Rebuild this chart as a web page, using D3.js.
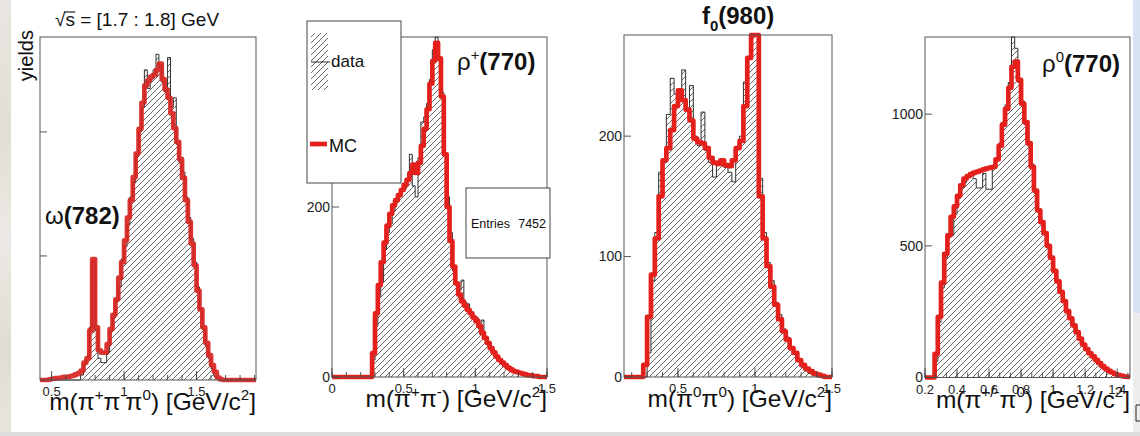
<!DOCTYPE html>
<html>
<head>
<meta charset="utf-8">
<script src="https://cdn.jsdelivr.net/npm/d3@7"></script>
<style>
  html, body { margin: 0; padding: 0; background: #ffffff; }
  svg { display: block; font-family: "Liberation Sans", Arial, Helvetica, sans-serif; }
</style>
</head>
<body>
<svg id="chart" width="1140" height="436"></svg>
<script>
// ---------------- histogram contents (events per bin) ----------------

// m(pi+ pi- pi0), bins of 0.02 GeV starting at 0.42 GeV
const m3piStart = 0.42, m3piWidth = 0.02;
const m3piData = [
  0,0,0,0,0,0,0,0,0,0,0,0,0,0,
  8,25,38,85,192,80,35,28,28,45,
  78,100,128,150,195,215,250,295,318,360,
  400,440,500,470,485,500,525,505,480,465,
  520,440,455,380,350,335,295,262,228,190,
  150,115,82,55,35,18,6,2,
  0,0,0,0,0,0,0,0,0,0,0,0,0
];
const m3piMC = [
  0,0,0,1,2,3,3,4,5,5,
  6,7,9,11,15,28,35,80,195,85,
  48,44,44,58,82,105,130,165,190,225,
  262,290,327,365,405,447,475,483,489,492,
  500,510,485,468,455,430,406,384,356,326,
  290,255,220,185,144,114,85,60,40,24,
  13,4,1,0,0,0,0,0,0,0,
  0,0,0,0,0
];
const m3piXTicks = [0.5, 1, 1.5];
const m3piYTicks = [200, 400];

// m(pi+ pi-), bins of 0.02 GeV starting at 0
const mpipiStart = 0, mpipiWidth = 0.02;
const mpipiData = [
  0,0,0,0,0,0,0,0,0,0,0,0,0,0,
  20,60,95,112,150,170,180,195,205,212,
  220,222,230,262,225,212,258,300,306,322,
  350,385,400,372,335,262,212,170,125,112,
  102,114,88,86,74,72,70,57,67,44,
  38,32,28,22,19,15,12,10,8,6,
  5,4,3,2,2,1,1,0,0,0,
  0
];
const mpipiMC = [
  0,0,0,0,0,0,0,0,0,0,0,0,0,0,
  28,75,108,135,158,178,192,202,208,214,
  220,226,232,240,250,240,252,272,292,315,
  345,372,393,375,330,262,200,160,130,110,
  97,89,84,79,75,70,66,60,52,46,
  40,34,29,24,20,17,14,11,9,7,
  6,5,4,3,2,2,1,1,0,0,
  0
];
const mpipiXTicks = [0, 0.5, 1, 1.5];
const mpipiYTicks = [0, 200];
const mpipiEntries = 7452;

// m(pi0 pi0), bins of 0.025 GeV starting at 0.15 GeV
const m2pi0Start = 0.15, m2pi0Width = 0.025;
const m2pi0Data = [
  0,0,0,0,0,0,
  20,80,120,170,178,218,248,235,232,255,
  222,242,200,192,220,188,178,166,178,176,
  174,170,162,190,200,245,265,290,300,165,
  120,95,80,62,52,40,33,25,20,13,
  8,5,3,1,
  0,0,0,0
];
const m2pi0MC = [
  0,0,0,0,0,
  10,50,85,115,150,180,190,205,225,238,
  230,222,213,198,195,194,190,182,178,177,
  180,176,175,180,190,196,225,265,300,295,
  150,115,92,75,60,48,38,31,24,20,
  14,10,7,5,3,2,1,
  0,0
];
const m2pi0XTicks = [0.5, 1, 1.5];
const m2pi0YTicks = [0, 100, 200];

// m(pi+/- pi0), bins of 0.02 GeV starting at 0.2 GeV
const mpic0Start = 0.2, mpic0Width = 0.02;
const mpic0Data = [
  0,0,0,60,210,340,455,545,540,620,
  680,720,740,760,775,755,720,720,775,715,
  715,805,830,890,970,1035,1120,1300,1250,1120,
  1050,960,880,810,700,640,585,545,505,450,
  400,360,322,288,250,220,192,168,145,122,
  105,88,78,64,52,40,31,23,17,12,
  8,5,2,1
];
const mpic0MC = [
  0,0,0,90,230,360,470,540,610,650,
  690,730,755,765,772,778,782,786,790,794,
  797,800,828,880,960,1020,1100,1180,1200,1130,
  1040,970,890,800,710,635,590,548,500,455,
  405,365,325,290,252,225,198,172,148,125,
  108,92,80,67,55,43,34,25,19,13,
  9,6,3,2
];
const mpic0XTicks = [0.2, 0.4, 0.6, 0.8, 1, 1.2, 1.4];
const mpic0YTicks = [0, 500, 1000];

// ---------------- drawing ----------------
const svg = d3.select("#chart");
const defs = svg.append("defs");
const FONT = '"Liberation Sans", Arial, Helvetica, sans-serif';
const RED = "#e3201b";

// page surroundings
const edgeGrad = defs.append("linearGradient").attr("id", "edgeGrad")
  .attr("x1", 0).attr("y1", 0).attr("x2", 0).attr("y2", 1);
[["0%", "#e9e6e1"], ["30%", "#e2ddd6"], ["55%", "#ece9e4"], ["80%", "#e0dcd5"], ["100%", "#e8e5df"]]
  .forEach(([o, c]) => edgeGrad.append("stop").attr("offset", o).attr("stop-color", c));
svg.append("rect").attr("x", 0).attr("y", 0).attr("width", 11).attr("height", 436).attr("fill", "url(#edgeGrad)");
svg.append("rect").attr("x", 1133).attr("y", 0).attr("width", 7).attr("height", 313).attr("fill", "#d8e3f4");
svg.append("rect").attr("x", 1133).attr("y", 313).attr("width", 7).attr("height", 123).attr("fill", "#ededed");
svg.append("rect").attr("x", 0).attr("y", 432).attr("width", 1140).attr("height", 4).attr("fill", "#dddddd");
svg.append("path").attr("d", "M1141,405 H1136 V421 H1141").attr("fill", "none").attr("stroke", "#222").attr("stroke-width", 1);

// diagonal hatch for the data histograms
const hatch = defs.append("pattern").attr("id", "hatch")
  .attr("patternUnits", "userSpaceOnUse").attr("width", 6).attr("height", 6);
hatch.append("path").attr("d", "M-1,1 l2,-2 M0,6 l6,-6 M5,7 l2,-2")
  .attr("stroke", "#4a4a4a").attr("stroke-width", 0.85).attr("fill", "none");

// text made of normal / bold / superscript / subscript pieces
function richText(parent, x, y, parts, size, anchor) {
  const t = parent.append("text").attr("x", x).attr("y", y)
    .attr("font-size", size).attr("font-family", FONT).attr("fill", "#111")
    .attr("text-anchor", anchor || "start");
  let shift = 0;
  parts.forEach(p => {
    const [str, kind] = Array.isArray(p) ? p : [p, "n"];
    let target = 0;
    const ts = t.append("tspan").text(str);
    if (kind === "sup") { target = -0.42 * size; ts.attr("font-size", size * 0.62); }
    else if (kind === "sub") { target = 0.28 * size; ts.attr("font-size", size * 0.62); }
    else if (kind === "b") { ts.attr("font-weight", "bold"); }
    else if (kind === "bsub") { target = 0.28 * size; ts.attr("font-size", size * 0.62).attr("font-weight", "bold"); }
    if (target !== shift) { ts.attr("dy", target - shift); shift = target; }
  });
  return t;
}

function histPoints(start, width, values) {
  const pts = [[start, 0]];
  values.forEach((v, i) => pts.push([start + i * width, v]));
  const end = start + values.length * width;
  pts.push([end, values[values.length - 1]]);
  pts.push([end, 0]);
  return pts;
}

function drawPanel(cfg, idx) {
  const f = cfg.frame;
  const x = d3.scaleLinear().domain(cfg.xDomain).range([f.left, f.right]);
  const y = d3.scaleLinear().domain(cfg.yDomain).range([f.bottom, f.top]).clamp(true);
  const g = svg.append("g");

  const clipId = "clip" + idx;
  defs.append("clipPath").attr("id", clipId).append("rect")
    .attr("x", f.left).attr("y", f.top - 3)
    .attr("width", f.right - f.left).attr("height", f.bottom - f.top + 6);

  const plot = g.append("g").attr("clip-path", `url(#${clipId})`);

  const dataPts = histPoints(cfg.start, cfg.width, cfg.data);
  const mcPts = histPoints(cfg.start, cfg.width, cfg.mc);

  const area = d3.area().curve(d3.curveStepAfter)
    .x(d => x(d[0])).y0(y(0)).y1(d => y(d[1]));
  const line = d3.line().curve(d3.curveStepAfter)
    .x(d => x(d[0])).y(d => y(d[1]));

  plot.append("path").attr("d", area(dataPts)).attr("fill", "url(#hatch)");
  plot.append("path").attr("d", line(dataPts)).attr("fill", "none")
    .attr("stroke", "#1a1a1a").attr("stroke-width", 0.9);
  plot.append("path").attr("d", line(mcPts)).attr("fill", "none")
    .attr("stroke", cfg.mcColor || RED).attr("stroke-width", 4.7)
    .attr("stroke-linejoin", "round").attr("opacity", cfg.mcOpacity || 1);

  // frame
  g.append("rect").attr("x", f.left).attr("y", f.top)
    .attr("width", f.right - f.left).attr("height", f.bottom - f.top)
    .attr("fill", "none").attr("stroke", "#555").attr("stroke-width", 1);

  // x axis ticks (inside the frame) and labels
  const minor = d3.range(cfg.xDomain[0], cfg.xDomain[1] + 1e-9, cfg.xMinorStep)
    .map(v => Math.ceil(v / cfg.xMinorStep - 1e-6) * cfg.xMinorStep)
    .filter(v => v >= cfg.xDomain[0] && v <= cfg.xDomain[1]);
  g.selectAll(null).data(minor).join("line")
    .attr("x1", d => x(d)).attr("x2", d => x(d))
    .attr("y1", f.bottom).attr("y2", f.bottom - 5)
    .attr("stroke", "#444").attr("stroke-width", 0.9);
  g.selectAll(null).data(cfg.xTicks).join("line")
    .attr("x1", d => x(d)).attr("x2", d => x(d))
    .attr("y1", f.bottom).attr("y2", f.bottom - 9)
    .attr("stroke", "#444").attr("stroke-width", 0.9);
  g.selectAll(null).data(cfg.xTicks).join("text")
    .attr("x", d => x(d)).attr("y", f.bottom + 16)
    .attr("text-anchor", "middle").attr("font-size", 13).attr("fill", "#222")
    .text(d => d3.format("~g")(d));

  // y axis ticks and labels
  g.selectAll(null).data(cfg.yTicks).join("line")
    .attr("x1", f.left).attr("x2", f.left + 7)
    .attr("y1", d => y(d)).attr("y2", d => y(d))
    .attr("stroke", "#444").attr("stroke-width", 0.9);
  if (cfg.yLabels) {
    g.selectAll(null).data(cfg.yTicks).join("text")
      .attr("x", f.left - 2).attr("y", d => y(d)).attr("dy", "0.35em")
      .attr("text-anchor", "end").attr("font-size", 14).attr("fill", "#222")
      .text(d => d);
  }

  // axis title, right aligned at the end of the axis
  richText(g, f.right, f.bottom + 30, cfg.xTitle, 24.5, "end");

  return { g, x, y };
}

const panels = [
  {
    frame: { left: 40, right: 256, top: 37, bottom: 380 },
    xDomain: [0.42, 1.91], yDomain: [0, 553],
    start: m3piStart, width: m3piWidth, data: m3piData, mc: m3piMC,
    xTicks: m3piXTicks, xMinorStep: 0.1, yTicks: m3piYTicks, yLabels: false,
    mcColor: "#d8221d", mcOpacity: 0.92,
    xTitle: ["m(π", ["+", "sup"], "π", ["-", "sup"], "π", ["0", "sup"], ") [GeV/c", ["2", "sup"], "]"]
  },
  {
    frame: { left: 332, right: 547, top: 37, bottom: 377 },
    xDomain: [0, 1.5], yDomain: [0, 400],
    start: mpipiStart, width: mpipiWidth, data: mpipiData, mc: mpipiMC,
    xTicks: mpipiXTicks, xMinorStep: 0.1, yTicks: mpipiYTicks, yLabels: true,
    xTitle: ["m(π", ["+", "sup"], "π", ["-", "sup"], ") [GeV/c", ["2", "sup"], "]"]
  },
  {
    frame: { left: 624, right: 832, top: 35, bottom: 377 },
    xDomain: [0.15, 1.5], yDomain: [0, 284],
    start: m2pi0Start, width: m2pi0Width, data: m2pi0Data, mc: m2pi0MC,
    xTicks: m2pi0XTicks, xMinorStep: 0.1, yTicks: m2pi0YTicks, yLabels: true,
    xTitle: ["m(π", ["0", "sup"], "π", ["0", "sup"], ") [GeV/c", ["2", "sup"], "]"]
  },
  {
    frame: { left: 925, right: 1130, top: 37, bottom: 377.5 },
    xDomain: [0.2, 1.48], yDomain: [0, 1293],
    start: mpic0Start, width: mpic0Width, data: mpic0Data, mc: mpic0MC,
    xTicks: mpic0XTicks, xMinorStep: 0.2 / 3, yTicks: mpic0YTicks, yLabels: true,
    xTitle: ["m(π", ["+/-", "sup"], "π", ["0", "sup"], ") [GeV/c", ["2", "sup"], "]"]
  }
];

panels.forEach((p, i) => drawPanel(p, i));

// resonance labels
richText(svg, 45, 224, ["ω", ["(782)", "b"]], 24);
richText(svg, 457, 70, ["ρ", ["+", "sup"], ["(770)", "b"]], 24);
richText(svg, 702, 24, [["f", "b"], ["0", "bsub"], ["(980)", "b"]], 24);
richText(svg, 1042, 72, ["ρ", ["0", "sup"], ["(770)", "b"]], 24);

// energy range of the first panel, with the bar of the square root over s
const sq = richText(svg, 55, 26, ["√", "s = [1.7 : 1.8] GeV"], 19);
const sqNode = sq.node();
const rootW = sqNode.getSubStringLength(0, 1);
const sW = sqNode.getSubStringLength(1, 1);
svg.append("line").attr("x1", 55 + rootW - 1).attr("x2", 55 + rootW + sW + 0.5)
  .attr("y1", 12).attr("y2", 12).attr("stroke", "#111").attr("stroke-width", 1.1);

// y axis title
svg.append("text").attr("transform", "translate(33,30) rotate(-90)")
  .attr("text-anchor", "end").attr("font-size", 20).attr("fill", "#111").text("yields");

// legend of the second panel
const leg = svg.append("g");
leg.append("rect").attr("x", 307).attr("y", 21).attr("width", 94).attr("height", 162)
  .attr("fill", "#fff").attr("stroke", "#444").attr("stroke-width", 1);
leg.append("rect").attr("x", 311).attr("y", 33).attr("width", 17).attr("height", 57)
  .attr("fill", "url(#hatch)");
leg.append("line").attr("x1", 311).attr("x2", 330).attr("y1", 62).attr("y2", 62)
  .attr("stroke", "#1a1a1a").attr("stroke-width", 0.9);
leg.append("text").attr("x", 331).attr("y", 67).attr("font-size", 17).attr("fill", "#111").text("data");
leg.append("line").attr("x1", 310).attr("x2", 327).attr("y1", 144).attr("y2", 144)
  .attr("stroke", RED).attr("stroke-width", 4.7);
leg.append("text").attr("x", 329).attr("y", 152).attr("font-size", 18).attr("fill", "#111").text("MC");

// statistics box of the second panel
const stats = svg.append("g");
stats.append("rect").attr("x", 466).attr("y", 188).attr("width", 84).attr("height", 70)
  .attr("fill", "#fff").attr("stroke", "#444").attr("stroke-width", 1);
stats.append("text").attr("x", 471).attr("y", 228).attr("font-size", 12.5).attr("fill", "#111").text("Entries");
stats.append("text").attr("x", 546).attr("y", 228).attr("text-anchor", "end")
  .attr("font-size", 12.5).attr("fill", "#111").text(mpipiEntries);
</script>
</body>
</html>
